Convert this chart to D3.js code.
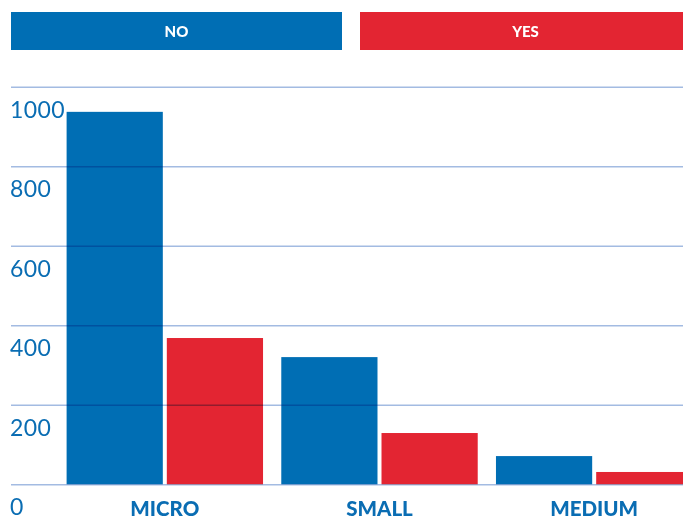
<!DOCTYPE html>
<html>
<head>
<meta charset="utf-8">
<script src="https://cdn.jsdelivr.net/npm/d3@7"></script>
<style>
  html, body { margin: 0; padding: 0; background: #fff; }
  svg { display: block; }
</style>
</head>
<body>
<svg id="chart" width="683" height="516"></svg>
<script>
// Firm size categories and the two answer series
const categories = ["MICRO", "SMALL", "MEDIUM"];
const seriesNames = ["NO", "YES"];
const noValues = [937, 320, 71];
const yesValues = [368, 129, 31];
const yTicks = [0, 200, 400, 600, 800, 1000];

const colors = { NO: "#006eb4", YES: "#e32532" };
const tickColor = "#0a6db3";

const W = 683, H = 516;
const svg = d3.select("#chart");

const rows = categories.map((c, i) => ({ category: c, NO: noValues[i], YES: yesValues[i] }));

// Scales
const y = d3.scaleLinear().domain([0, 1000]).range([484.3, 86.8]);
const x0 = d3.scaleBand().domain(categories).range([66.6, 692.4]).paddingInner(0.085).paddingOuter(0);
const x1 = d3.scaleBand().domain(seriesNames).range([0, x0.bandwidth()]).paddingInner(0.04).paddingOuter(0);
const legendX = d3.scaleBand().domain(seriesNames).range([11, 691]).paddingInner(0.0516).paddingOuter(0);

// Legend boxes across the top
const legend = svg.append("g").attr("class", "legend");
seriesNames.forEach(s => {
  legend.append("rect")
    .attr("x", legendX(s)).attr("y", 12)
    .attr("width", legendX.bandwidth()).attr("height", 38)
    .attr("fill", colors[s]);
  legend.append("text")
    .attr("x", legendX(s) + legendX.bandwidth() / 2).attr("y", 31)
    .attr("text-anchor", "middle").attr("dominant-baseline", "central")
    .attr("font-family", "Lato, 'Open Sans', sans-serif")
    .attr("font-weight", 900).attr("font-size", 15)
    .attr("fill", "#fff")
    .text(s);
});

// Bars
const groups = svg.append("g").attr("class", "bars")
  .selectAll("g").data(rows).join("g")
  .attr("transform", d => `translate(${x0(d.category)},0)`);
groups.selectAll("rect")
  .data(d => seriesNames.map(s => ({ key: s, value: d[s] })))
  .join("rect")
  .attr("x", d => x1(d.key))
  .attr("y", d => y(d.value))
  .attr("width", x1.bandwidth())
  .attr("height", d => y(0) - y(d.value))
  .attr("fill", d => colors[d.key]);

// Gridlines drawn over the bars
const yAxis = d3.axisLeft(y).tickValues(yTicks).tickSize(-(W - 11)).tickFormat("");
const grid = svg.append("g").attr("class", "grid")
  .attr("transform", `translate(11,0)`)
  .call(yAxis);
grid.select(".domain").remove();
grid.selectAll(".tick line")
  .attr("stroke", "#a3bbe2").attr("stroke-width", 1.5)
  .style("mix-blend-mode", "multiply");

// Y tick labels, sitting below each gridline
svg.append("g").attr("class", "ylabels")
  .selectAll("text").data(yTicks).join("text")
  .attr("x", 10).attr("y", d => y(d) + 22)
  .attr("dominant-baseline", "central")
  .attr("font-family", "Lato, sans-serif")
  .attr("font-size", 23)
  .attr("letter-spacing", 0.4)
  .attr("fill", tickColor)
  .text(d => d);

// Category labels under each group
svg.append("g").attr("class", "xlabels")
  .selectAll("text").data(categories).join("text")
  .attr("x", d => x0(d) + x0.bandwidth() / 2)
  .attr("y", 508)
  .attr("text-anchor", "middle").attr("dominant-baseline", "central")
  .attr("font-family", "Lato, sans-serif")
  .attr("font-weight", 900).attr("font-size", 20.5)
  .attr("fill", tickColor)
  .text(d => d);
</script>
</body>
</html>
